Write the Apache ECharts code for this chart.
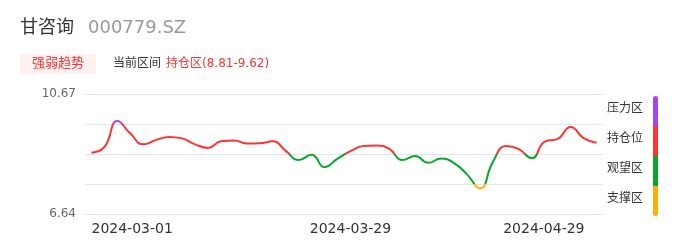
<!DOCTYPE html>
<html>
<head>
<meta charset="utf-8">
<script src="https://cdn.jsdelivr.net/npm/echarts@6/dist/echarts.min.js"></script>
<style>
html,body{margin:0;padding:0;background:#fff;}
#chart{width:686px;height:247px;}
</style>
</head>
<body>
<div id="chart"></div>
<script>
const stockName = '甘咨询';
const stockCode = '000779.SZ';
const badgeText = '强弱趋势';
const rangeLabel = '当前区间';
const rangeValue = '持仓区(8.81-9.62)';

const dates = [
  '2024-03-01','2024-03-04','2024-03-05','2024-03-06','2024-03-07','2024-03-08',
  '2024-03-11','2024-03-12','2024-03-13','2024-03-14','2024-03-15',
  '2024-03-18','2024-03-19','2024-03-20','2024-03-21','2024-03-22',
  '2024-03-25','2024-03-26','2024-03-27','2024-03-28','2024-03-29',
  '2024-04-01','2024-04-02','2024-04-03',
  '2024-04-08','2024-04-09','2024-04-10','2024-04-11','2024-04-12',
  '2024-04-15','2024-04-16','2024-04-17','2024-04-18','2024-04-19',
  '2024-04-22','2024-04-23','2024-04-24','2024-04-25','2024-04-26',
  '2024-04-29'
];
const prices = [
  8.70, 8.89, 9.76, 9.34, 8.98, 9.13, 9.23, 9.18, 8.98, 8.86,
  9.08, 9.11, 9.01, 9.02, 9.08, 8.76, 8.45, 8.63, 8.21, 8.50,
  8.75, 8.92, 8.94, 8.83, 8.45, 8.59, 8.36, 8.50, 8.35, 7.97,
  7.50, 8.39, 8.92, 8.82, 8.51, 9.07, 9.16, 9.56, 9.19, 9.03
];
const shownDates = ['2024-03-01', '2024-03-29', '2024-04-29'];
const yMin = 6.64;
const yMax = 10.67;
const yTickLabels = ['6.64', '10.67'];
const zoneNames = ['压力区', '持仓位', '观望区', '支撑区'];
const zoneColors = ['#a244f7', '#ff3333', '#0aa52b', '#ffb000'];
const zoneBounds = [9.6625, 8.655, 7.6475]; // boundaries between zones, top to bottom

const FONT = "'DejaVu Sans', 'Noto Sans CJK SC', sans-serif";
const chart = echarts.init(document.getElementById('chart'), null, {renderer: 'canvas'});

const legendGraphics = [];
zoneNames.forEach((name, i) => {
  legendGraphics.push({
    type: 'text', left: 607, top: 103 + i * 30,
    style: {text: name, fill: '#333', font: '12px ' + FONT}
  });
  const r = i === 0 ? [2.5, 2.5, 0, 0] : (i === zoneNames.length - 1 ? [0, 0, 2.5, 2.5] : 0);
  legendGraphics.push({
    type: 'rect', shape: {x: 653, y: 96 + i * 30, width: 5, height: 30, r: r},
    style: {fill: zoneColors[i]}
  });
});

const xData = dates.map((d, i) => {
  if (i === 0) return {value: d, textStyle: {align: 'left', padding: [0, 0, 0, 0]}};
  if (i === dates.length - 1) return {value: d, textStyle: {align: 'right', padding: [0, 12, 0, 0]}};
  return d;
});

const option = {
  animation: false,
  backgroundColor: '#fff',
  textStyle: {fontFamily: FONT},
  grid: {left: 85, right: 83, top: 94, bottom: 33},
  xAxis: {
    type: 'category',
    data: xData,
    boundaryGap: true,
    axisLine: {show: false},
    axisTick: {show: false},
    axisLabel: {
      color: '#333', fontSize: 14, margin: 8, fontFamily: FONT,
      interval: (idx, val) => shownDates.indexOf(val) >= 0
    },
    splitLine: {show: false}
  },
  yAxis: [
    {
      type: 'value', min: yMin, max: yMax,
      axisLine: {show: false}, axisTick: {show: false},
      splitLine: {show: false},
      axisLabel: {
        color: '#666', fontSize: 12, margin: 9, fontFamily: FONT,
        formatter: v => {
          if (Math.abs(v - yMin) < 1e-6) return yTickLabels[0];
          if (Math.abs(v - yMax) < 1e-6) return yTickLabels[1];
          return '';
        }
      }
    },
    {
      type: 'value', min: 0, max: 4, interval: 1, position: 'left',
      axisLine: {show: false}, axisTick: {show: false}, axisLabel: {show: false},
      splitLine: {show: true, lineStyle: {color: '#e0e6f1', width: 1}}
    }
  ],
  visualMap: {
    type: 'piecewise', show: false, seriesIndex: 0, dimension: 1,
    pieces: [
      {gte: zoneBounds[0], color: zoneColors[0]},
      {gte: zoneBounds[1], lt: zoneBounds[0], color: zoneColors[1]},
      {gte: zoneBounds[2], lt: zoneBounds[1], color: zoneColors[2]},
      {lt: zoneBounds[2], color: zoneColors[3]}
    ]
  },
  series: [{
    type: 'line', data: prices, yAxisIndex: 0,
    smooth: true, showSymbol: false, symbol: 'none',
    lineStyle: {width: 2}
  }],
  graphic: [
    {type: 'text', left: 20, top: 19, style: {text: stockName, fill: '#333', font: '18px ' + FONT}},
    {type: 'text', left: 88, top: 19, style: {text: stockCode, fill: '#999', font: '18px ' + FONT}},
    {type: 'rect', shape: {x: 20, y: 54, width: 76, height: 20}, style: {fill: '#fff1ef'}},
    {type: 'text', left: 32, top: 57, style: {text: badgeText, fill: '#ff3333', font: '13px ' + FONT}},
    {type: 'text', left: 113, top: 58, style: {text: rangeLabel, fill: '#333', font: '12px ' + FONT}},
    {type: 'text', left: 166, top: 58, style: {text: rangeValue, fill: '#ff3333', font: '12px ' + FONT}}
  ].concat(legendGraphics)
};
chart.setOption(option);
</script>
</body>
</html>
